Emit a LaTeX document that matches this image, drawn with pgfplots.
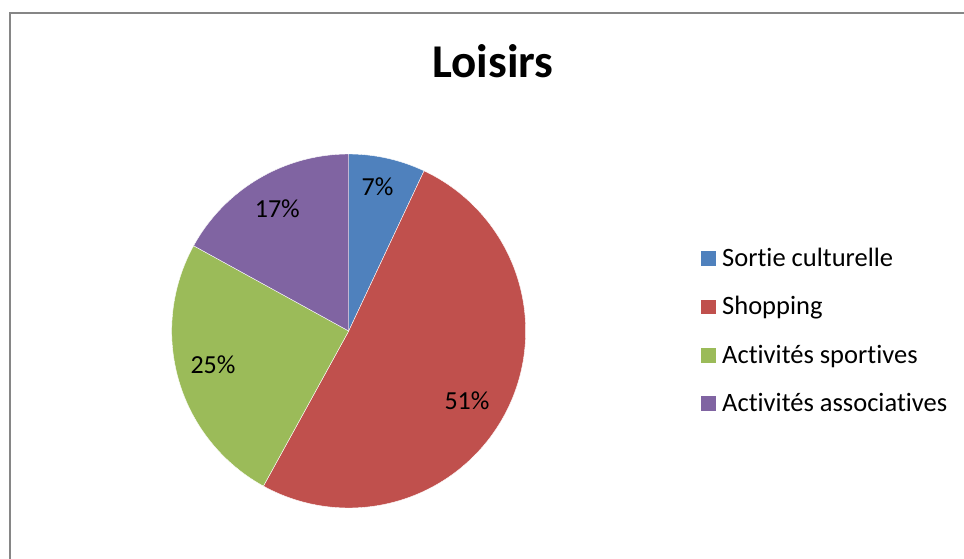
\documentclass[border=0pt]{standalone}
\usepackage{pgfplots}
\pgfplotsset{compat=1.18}
\usepackage{fontspec}
\setmainfont{Carlito}[Ligatures=NoCommon]

\definecolor{sliceA}{HTML}{4F81BD}
\definecolor{sliceB}{HTML}{C0504D}
\definecolor{sliceC}{HTML}{9BBB59}
\definecolor{sliceD}{HTML}{8064A2}
\definecolor{framegray}{HTML}{868686}

% shares in percent
\def\vA{7}   % Sortie culturelle
\def\vB{51}  % Shopping
\def\vC{25}  % Activités sportives
\def\vD{17}  % Activités associatives

% pie geometry (canvas units = pt)
\def\cx{348.7}
\def\cy{227}
\def\R{177}

% slice boundaries, clockwise from 12 o'clock
\pgfmathsetmacro\aA{90}
\pgfmathsetmacro\aB{\aA-3.6*\vA}
\pgfmathsetmacro\aC{\aB-3.6*\vB}
\pgfmathsetmacro\aD{\aC-3.6*\vC}
\pgfmathsetmacro\aE{\aD-3.6*\vD}

\begin{document}
\begin{tikzpicture}
\useasboundingbox (0,0) rectangle (964pt,558pt);
\begin{axis}[
  at={(0,0)}, anchor=south west,
  width=964pt, height=558pt, scale only axis,
  xmin=0, xmax=964, ymin=0, ymax=558,
  hide axis, clip=false,
]
  % chart area frame
  \draw[framegray, line width=2pt] (axis cs:10,-20) |- (axis cs:1000,544.8);

  % title
  \node[anchor=base, font=\bfseries\fontsize{47}{54}\selectfont]
    at (axis cs:493,480) {Loisirs};

  % slices
  \addplot[fill=sliceA, draw=white, line width=0.4pt, domain=\aB:\aA, samples=40, variable=\t]
    ({\cx+\R*cos(\t)}, {\cy+\R*sin(\t)}) -- (axis cs:\cx,\cy) -- cycle;
  \addplot[fill=sliceB, draw=white, line width=0.4pt, domain=\aC:\aB, samples=160, variable=\t]
    ({\cx+\R*cos(\t)}, {\cy+\R*sin(\t)}) -- (axis cs:\cx,\cy) -- cycle;
  \addplot[fill=sliceC, draw=white, line width=0.4pt, domain=\aD:\aC, samples=90, variable=\t]
    ({\cx+\R*cos(\t)}, {\cy+\R*sin(\t)}) -- (axis cs:\cx,\cy) -- cycle;
  \addplot[fill=sliceD, draw=white, line width=0.4pt, domain=\aE:\aD, samples=70, variable=\t]
    ({\cx+\R*cos(\t)}, {\cy+\R*sin(\t)}) -- (axis cs:\cx,\cy) -- cycle;

  % data labels
  \begin{scope}[every node/.style={anchor=base, font=\fontsize{26}{31}\selectfont}]
    \node at (axis cs:377.5,363) {\vA\%};
    \node at (axis cs:467,149) {\vB\%};
    \node at (axis cs:213,184.7) {\vC\%};
    \node at (axis cs:277.3,340.3) {\vD\%};
  \end{scope}

  % legend
  \begin{scope}[every node/.style={anchor=base west, font=\fontsize{26.5}{32}\selectfont, inner sep=0pt}]
    \fill[sliceA] (axis cs:701.3,292.3) rectangle ++(14.5pt,14.5pt);
    \node at (axis cs:722,292) {Sortie culturelle};
    \fill[sliceB] (axis cs:701.3,243.8) rectangle ++(14.5pt,14.5pt);
    \node at (axis cs:722,243.5) {Shopping};
    \fill[sliceC] (axis cs:701.3,195.3) rectangle ++(14.5pt,14.5pt);
    \node at (axis cs:722,195) {Activités sportives};
    \fill[sliceD] (axis cs:701.3,147.3) rectangle ++(14.5pt,14.5pt);
    \node at (axis cs:722,147) {Activités associatives};
  \end{scope}
\end{axis}
\end{tikzpicture}
\end{document}
